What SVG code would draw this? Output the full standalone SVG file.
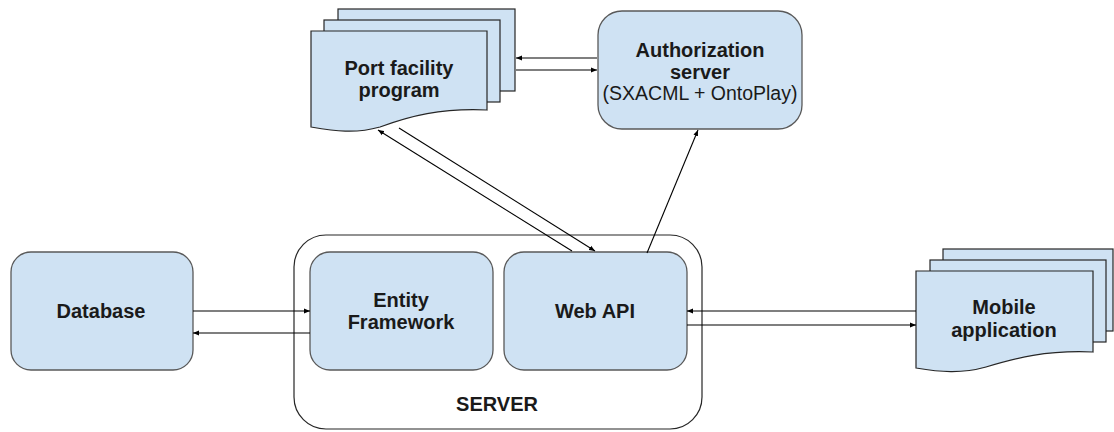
<svg xmlns="http://www.w3.org/2000/svg" width="1114" height="432" viewBox="0 0 1114 432">
<defs>
<marker id="ah" viewBox="0 0 10 10" refX="10" refY="5" markerWidth="6" markerHeight="6" orient="auto" markerUnits="userSpaceOnUse">
<path d="M0,1 L10,5 L0,9 Z" fill="#000"/>
</marker>
<style>
.box{fill:#cfe2f3;stroke:#595959;stroke-width:1.3}
.doc{fill:#cfe2f3;stroke:#262626;stroke-width:1.2}
.ct{fill:#fff;stroke:#262626;stroke-width:1.2}
.t{font-family:"Liberation Sans",Arial,sans-serif;font-weight:bold;font-size:20px;fill:#1a1a1a;text-anchor:middle}
.s{font-family:"Liberation Sans",Arial,sans-serif;font-size:19.5px;fill:#1a1a1a;text-anchor:middle}
.c{fill:none;stroke:#000;stroke-width:1.1;marker-end:url(#ah)}
</style>
</defs>
<rect width="1114" height="432" fill="#fff"/>

<g id="server">
<rect class="ct" x="294" y="235" width="408" height="194" rx="32"/>
<text class="t" x="497" y="411">SERVER</text>
</g>

<g id="port-facility">
<rect class="doc" x="338" y="9" width="177" height="82"/>
<rect class="doc" x="324" y="20" width="176" height="82"/>
<path class="doc" d="M311,31 H487 V110 C440,108 410,116 380,127 C355,134 335,131 311,127 Z"/>
<text class="t" x="399" y="75">Port facility</text>
<text class="t" x="399" y="97">program</text>
</g>

<g id="auth">
<rect class="box" x="598" y="11" width="204" height="118" rx="24"/>
<text class="t" x="700" y="57">Authorization</text>
<text class="t" x="700" y="79">server</text>
<text class="s" x="700" y="100">(SXACML + OntoPlay)</text>
</g>

<g id="database">
<rect class="box" x="11" y="252" width="182" height="118" rx="20"/>
<text class="t" x="101" y="318">Database</text>
</g>

<g id="entity-framework">
<rect class="box" x="310" y="252" width="183" height="118" rx="20"/>
<text class="t" x="401" y="307">Entity</text>
<text class="t" x="401" y="329">Framework</text>
</g>

<g id="web-api">
<rect class="box" x="504" y="252" width="183" height="118" rx="20"/>
<text class="t" x="595" y="318">Web API</text>
</g>

<g id="mobile">
<rect class="doc" x="943" y="249" width="170" height="82"/>
<rect class="doc" x="930" y="260" width="176" height="82"/>
<path class="doc" d="M916,271 H1093 V352 C1046,350 1016,358 986,367 C961,374 940,372 916,368 Z"/>
<text class="t" x="1004" y="314">Mobile</text>
<text class="t" x="1004" y="337">application</text>
</g>

<g id="connectors">
<line class="c" x1="597" y1="58" x2="516" y2="58"/>
<line class="c" x1="516" y1="70" x2="597" y2="70"/>
<line class="c" x1="572" y1="251" x2="378" y2="130"/>
<line class="c" x1="399" y1="128" x2="595" y2="251"/>
<line class="c" x1="647" y1="253" x2="698" y2="130"/>
<line class="c" x1="193" y1="311" x2="310" y2="311"/>
<line class="c" x1="310" y1="333" x2="193" y2="333"/>
<line class="c" x1="916" y1="311" x2="687" y2="311"/>
<line class="c" x1="687" y1="325" x2="916" y2="325"/>
</g>
</svg>
